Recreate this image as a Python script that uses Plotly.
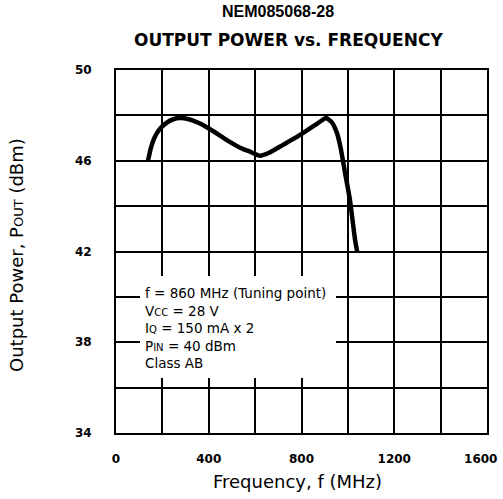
import plotly.graph_objects as go

# Data
freq_mhz = [138, 150, 165, 185, 216, 250, 276, 310, 360, 418, 480, 540, 578, 621,
            660, 720, 780, 819, 870, 906, 930, 953, 970, 988, 1009, 1031, 1040]
pout_dbm = [46.0, 46.55, 47.0, 47.35, 47.66, 47.84, 47.88, 47.84, 47.65, 47.31, 46.9,
            46.55, 46.4, 46.22, 46.35, 46.7, 47.05, 47.31, 47.65, 47.88, 47.7, 47.22,
            46.5, 45.46, 44.27, 42.51, 42.0]

x_tickvals = [0, 200, 400, 600, 800, 1000, 1200, 1400, 1600]
x_ticktext = ["0", "", "400", "", "800", "", "1200", "", "1600&nbsp;&nbsp;&nbsp;"]
y_tickvals = [34, 36, 38, 40, 42, 44, 46, 48, 50]
y_ticktext = ["34", "", "38", "", "42", "", "46", "", "50"]

conditions = [
    "f = 860 MHz (Tuning point)",
    "V<span style='font-size:10px'>CC</span> = 28 V",
    "I<span style='font-size:10px'>Q</span> = 150 mA x 2",
    "P<span style='font-size:10px'>IN</span> = 40 dBm",
    "Class AB",
]

fig = go.Figure()
fig.add_trace(go.Scatter(
    x=freq_mhz, y=pout_dbm, mode="lines",
    line=dict(color="black", width=4.5, shape="spline", smoothing=0.5),
    hoverinfo="skip", showlegend=False,
))

tick_font = dict(family="DejaVu Sans", size=12, color="black", weight="bold")

fig.update_layout(
    width=503, height=499,
    margin=dict(l=116, r=16, t=70, b=66, autoexpand=False),
    paper_bgcolor="white", plot_bgcolor="white",
    showlegend=False,
    xaxis=dict(
        range=[0, 1600], tickvals=x_tickvals, ticktext=x_ticktext,
        showgrid=True, gridcolor="black", gridwidth=2,
        showline=True, linecolor="black", linewidth=2, mirror=True,
        ticks="", zeroline=False, tickfont=tick_font, ticklabelstandoff=14,
        automargin=False, ticklabeloverflow="allow",
    ),
    yaxis=dict(
        range=[34, 50], tickvals=y_tickvals, ticktext=y_ticktext,
        showgrid=True, gridcolor="black", gridwidth=2,
        showline=True, linecolor="black", linewidth=2, mirror=True,
        ticks="", zeroline=False, tickfont=tick_font, ticklabelstandoff=20,
        automargin=False, ticklabeloverflow="allow",
    ),
    shapes=[dict(
        type="rect", xref="paper", yref="paper",
        x0=(140 - 116) / 371, x1=(336 - 116) / 371,
        y0=(433 - 378) / 363, y1=(433 - 276) / 363,
        fillcolor="white", line=dict(width=0), layer="above",
    )],
)

annotations = [
    dict(text="<b>NEM085068-28</b>", x=(278 - 116) / 371, y=(433 - 12) / 363,
         font=dict(family="Liberation Sans", size=16, color="black")),
    dict(text="<b>OUTPUT POWER vs. FREQUENCY</b>", x=(288 - 116) / 371, y=(433 - 40) / 363,
         font=dict(family="DejaVu Sans", size=17, color="black")),
    dict(text="Frequency, f (MHz)", x=(297 - 116) / 371, y=(433 - 481) / 363,
         font=dict(family="DejaVu Sans", size=18, color="black")),
    dict(text="Output Power, P<span style='font-size:13px'>OUT</span> (dBm)",
         x=(17 - 116) / 371, y=(433 - 255) / 363, textangle=-90,
         font=dict(family="DejaVu Sans", size=18, color="black")),
    dict(text="<br>".join(conditions), x=(143 - 116) / 371, y=(433 - 283) / 363,
         xanchor="left", yanchor="top", align="left",
         font=dict(family="DejaVu Sans", size=13.5, color="black")),
]
for a in annotations:
    a.setdefault("xanchor", "center")
    a.setdefault("yanchor", "middle")
    fig.add_annotation(xref="paper", yref="paper", showarrow=False, **a)

fig.write_html("out.html", config={"displayModeBar": False, "staticPlot": True})

# remove the default page margin so the figure sits at the window's top-left
with open("out.html", "r", encoding="utf-8") as f:
    html = f.read()
html = html.replace("<head>", "<head><style>html,body{margin:0;padding:0;overflow:hidden;}</style>", 1)
with open("out.html", "w", encoding="utf-8") as f:
    f.write(html)
